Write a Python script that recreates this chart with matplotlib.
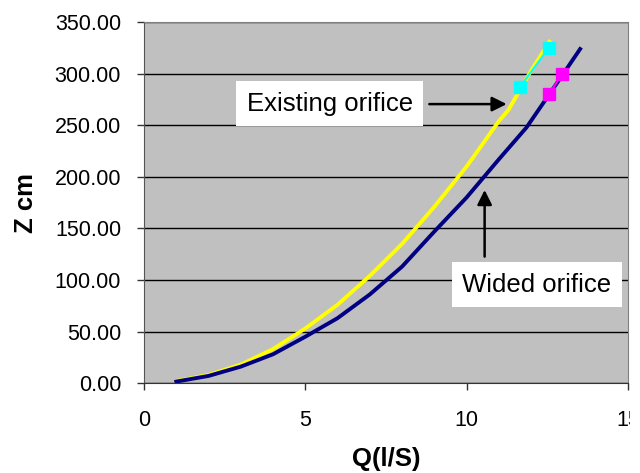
import matplotlib
matplotlib.use("Agg")
import matplotlib.pyplot as plt
from matplotlib.transforms import Bbox, TransformedBbox

plt.rcParams['font.family'] = ['Liberation Sans', 'DejaVu Sans']

# existing orifice curve (yellow)
q_existing = [1, 2, 3, 4, 5, 6, 7, 8, 9, 10, 11, 11.3, 12, 12.57]
z_existing = [2, 8, 18, 33, 53, 76, 104, 135, 171, 210, 254, 265, 303, 331]

# wided orifice curve (navy)
q_wided = [1, 2, 3, 4, 5, 6, 7, 8, 9, 10, 11, 11.86, 13, 13.52]
z_wided = [1.5, 7, 16, 28, 45, 63, 86, 113, 147, 180, 217, 248, 300, 324]

# measured points
q_meas_existing = [11.65, 12.55]
z_meas_existing = [287, 325]
q_meas_wided = [12.55, 12.97]
z_meas_wided = [280, 300]

y_ticks = [0, 50, 100, 150, 200, 250, 300, 350]
x_ticks = [0, 5, 10, 15]

fig = plt.figure(figsize=(6.4, 4.73), dpi=100)
ax = fig.add_axes([0.225, 0.190, 0.756, 0.763])
ax.set_facecolor('#C0C0C0')

ax.plot(q_existing, z_existing, color='#FFFF00', lw=2.8, zorder=3)
ax.plot(q_wided, z_wided, color='#000080', lw=2.8, zorder=3)
ax.plot(q_meas_existing, z_meas_existing, color='#00FFFF', lw=1.5,
        marker='s', ms=8, zorder=4)
ax.plot(q_meas_wided, z_meas_wided, color='#FF00FF', lw=1.5,
        marker='s', ms=8, zorder=4)

ax.set_xlim(0, 15)
ax.set_ylim(0, 350)
ax.set_xticks(x_ticks)
xlabels = ax.set_xticklabels([str(v) for v in x_ticks])
ax.set_yticks(y_ticks)
ax.set_yticklabels(['%.2f' % v for v in y_ticks])
ax.yaxis.grid(True, color='black', lw=1)
ax.set_axisbelow(True)
ax.tick_params(axis='both', direction='out', length=5, width=1,
               color='#333333', labelsize=15.5)
ax.tick_params(axis='y', pad=11.5)
ax.tick_params(axis='x', pad=14)

# the last x label is cut off at the chart's right edge
clip = TransformedBbox(Bbox([[0, 0], [630 / 640, 1]]), fig.transFigure)
xlabels[-1].set_clip_box(clip)
xlabels[-1].set_clip_on(True)

for side in ['top', 'right']:
    ax.spines[side].set_color('#808080')
ax.spines['left'].set_color('#555555')
ax.spines['bottom'].set_color('#333333')

ax.set_xlabel('Q(l/S)', fontsize=18.5, fontweight='bold', labelpad=12)
ax.set_ylabel('Z cm', fontsize=18.5, fontweight='bold', labelpad=12)

box = dict(boxstyle='square,pad=0.4', fc='white', ec='none')
ax.text(5.76, 271, 'Existing orifice', fontsize=18.5, ha='center',
        va='center', bbox=box, zorder=5)
ax.text(12.18, 95.5, 'Wided orifice', fontsize=18.5, ha='center',
        va='center', bbox=box, zorder=5)

arrow = dict(arrowstyle='-|>', color='black', lw=1.8, mutation_scale=22)
ax.annotate('', xy=(11.33, 270.6), xytext=(8.76, 270.6),
            arrowprops=arrow, zorder=6)
ax.annotate('', xy=(10.56, 190), xytext=(10.56, 120),
            arrowprops=arrow, zorder=6)

fig.savefig('out.png', dpi=100)
